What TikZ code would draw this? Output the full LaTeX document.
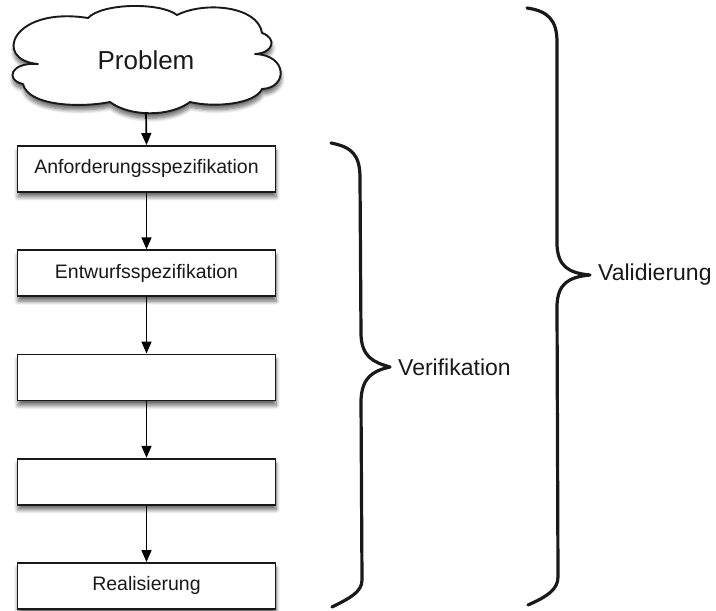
\documentclass[tikz,border=0pt]{standalone}
\usepackage{fontspec}
\setmainfont{Liberation Sans}
\usetikzlibrary{arrows.meta,shadows.blur}
\begin{document}
\begin{tikzpicture}[x=1pt,y=-1pt,
  shad/.style={blur shadow={shadow xshift=0.5pt,shadow yshift=-5pt,shadow blur steps=8,shadow blur radius=4pt,shadow opacity=60}},
  stepbox/.style={draw=black!90,line width=1.9pt,fill=white,minimum width=258pt,minimum height=46pt,
    inner sep=0pt,anchor=north,font=\fontsize{19.5}{22}\selectfont,text=black!90,shad},
  flow/.style={draw=black,line width=1.7pt,-{Triangle[length=12pt,width=10pt]}},
  bracepath/.style={draw=black!90,line width=3.2pt,line cap=round,line join=round},
  bracelabel/.style={anchor=west,font=\fontsize{23}{26}\selectfont,text=black!90,inner sep=0pt}]
\useasboundingbox (0,0) rectangle (716,611);
% cloud
\filldraw[draw=black!90,fill=white,line width=1.9pt,line join=round,shad]
  (38,64) .. controls (-8,60) and (12,6) .. (88,18)
  .. controls (102,3) and (160,2) .. (177,15)
  .. controls (205,1) and (258,6) .. (262,33)
  .. controls (277,38) and (274,53) .. (255,54)
  .. controls (288,55) and (288,88) .. (262,89)
  .. controls (255,104) and (215,108) .. (190,102)
  .. controls (170,117) and (130,117) .. (110,102)
  .. controls (80,108) and (28,106) .. (23,84)
  .. controls (5,80) and (10,62) .. cycle;
\node[font=\fontsize{26}{30}\selectfont,text=black!90] (prob) at (146,60) {Problem};
\coordinate (cb) at (146,112);
\node[stepbox] (b1) at (146.5,145) {Anforderungsspezifikation};
\node[stepbox] (b2) at (146.5,249.25) {Entwurfsspezifikation};
\node[stepbox] (b3) at (146.5,353.5) {};
\node[stepbox] (b4) at (146.5,457.75) {};
\node[stepbox] (b5) at (146.5,562) {Realisierung};
\draw[flow] (cb) -- (b1.north);
\draw[flow] (b1.south) -- (b2.north);
\draw[flow] (b2.south) -- (b3.north);
\draw[flow] (b3.south) -- (b4.north);
\draw[flow] (b4.south) -- (b5.north);
% Verifikation brace
\coordinate (v1) at (331,143);
\coordinate (vt) at (390,367);
\coordinate (v2) at (332,607);
\draw[bracepath] (v1) .. controls (352,147) and (360,155) .. (360,178)
  -- (361,335) .. controls (362,356) and (372,362) .. (vt)
  .. controls (372,371) and (362,378) .. (361,400)
  -- (362,580) .. controls (362,592) and (350,598) .. (v2);
\node[bracelabel] (ver) at (398,367) {Verifikation};
% Validierung brace
\coordinate (w1) at (527,8);
\coordinate (wt) at (590,275);
\coordinate (w2) at (528,605);
\draw[bracepath] (w1) .. controls (548,11) and (557,20) .. (557,42)
  -- (557,245) .. controls (558,266) and (568,273) .. (wt)
  .. controls (568,277) and (558,284) .. (557,305)
  -- (558,577) .. controls (558,590) and (546,597) .. (w2);
\node[bracelabel] (val) at (598,275) {Validierung};
\end{tikzpicture}
\end{document}
